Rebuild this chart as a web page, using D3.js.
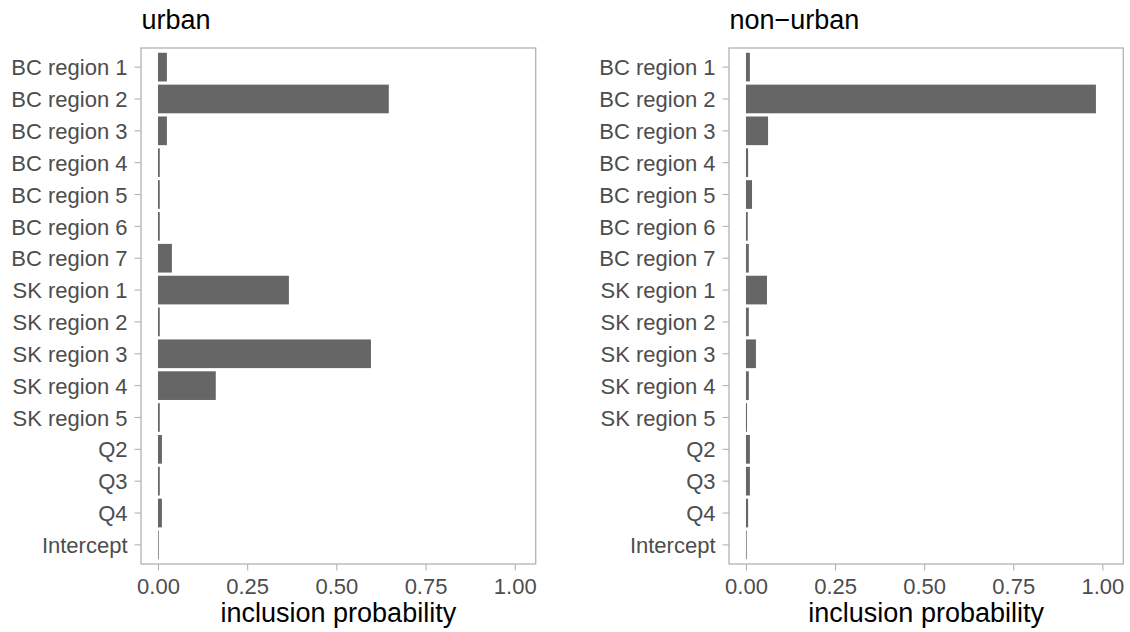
<!DOCTYPE html>
<html>
<head>
<meta charset="utf-8">
<script src="https://cdn.jsdelivr.net/npm/d3@7"></script>
<style>
  body { margin: 0; background: #fff; }
  svg text { font-family: "Liberation Sans", Arial, sans-serif; }
</style>
</head>
<body>
<svg id="chart" width="1130" height="632"></svg>
<script>
// model terms, top to bottom
const terms = [
  'BC region 1', 'BC region 2', 'BC region 3', 'BC region 4', 'BC region 5',
  'BC region 6', 'BC region 7', 'SK region 1', 'SK region 2', 'SK region 3',
  'SK region 4', 'SK region 5', 'Q2', 'Q3', 'Q4', 'Intercept'
];

// inclusion probabilities
const urbanProb = [0.025, 0.647, 0.025, 0.005, 0.005, 0.005, 0.039, 0.367,
  0.005, 0.597, 0.162, 0.005, 0.011, 0.005, 0.011, 0.002];
const nonUrbanProb = [0.011, 0.982, 0.062, 0.006, 0.017, 0.005, 0.008, 0.059,
  0.008, 0.028, 0.008, 0.003, 0.011, 0.011, 0.006, 0.002];

const panelTitles = ['urban', 'non\u2212urban'];
const xTicks = [0, 0.25, 0.5, 0.75, 1];
const xLabel = 'inclusion probability';

const svg = d3.select('#chart');

// panel boxes in pixels
const panelTop = 48, panelBottom = 564;
const panels = [
  {title: panelTitles[0], values: urbanProb, left: 141, right: 535.7},
  {title: panelTitles[1], values: nonUrbanProb, left: 729, right: 1123.3}
];

const axisFont = 22;
const titleFont = 27;

panels.forEach(p => {
  const g = svg.append('g');

  const x = d3.scaleLinear()
    .domain([-0.0476, 1.0588])
    .range([p.left, p.right]);

  const y = d3.scaleBand()
    .domain(terms)
    .range([panelTop, panelBottom])
    .paddingInner(0.1)
    .paddingOuter(0.15);

  const rows = terms.map((t, i) => ({term: t, value: p.values[i]}));

  g.selectAll('rect.bar')
    .data(rows)
    .join('rect')
    .attr('class', 'bar')
    .attr('x', x(0))
    .attr('y', d => y(d.term))
    .attr('width', d => x(d.value) - x(0))
    .attr('height', y.bandwidth())
    .attr('fill', '#666666');

  // panel border
  g.append('rect')
    .attr('x', p.left)
    .attr('y', panelTop)
    .attr('width', p.right - p.left)
    .attr('height', panelBottom - panelTop)
    .attr('fill', 'none')
    .attr('stroke', '#B3B3B3')
    .attr('stroke-width', 1.3);

  const yAxis = g.append('g')
    .attr('transform', `translate(${p.left},0)`)
    .call(d3.axisLeft(y).tickSize(6.5).tickPadding(7));

  const xAxis = g.append('g')
    .attr('transform', `translate(0,${panelBottom})`)
    .call(d3.axisBottom(x).tickValues(xTicks).tickFormat(d3.format('.2f'))
      .tickSize(6.5).tickPadding(8));

  [yAxis, xAxis].forEach(a => {
    a.select('.domain').remove();
    a.selectAll('.tick line').attr('stroke', '#B3B3B3').attr('stroke-width', 1.1);
    a.selectAll('.tick text')
      .attr('fill', '#4D4D4D')
      .style('font-size', axisFont + 'px');
  });
  yAxis.selectAll('.tick text').attr('dy', '0.37em');

  g.append('text')
    .attr('x', p.left + 0.5)
    .attr('y', 28.5)
    .style('font-size', titleFont + 'px')
    .attr('fill', '#000')
    .text(p.title);

  g.append('text')
    .attr('x', (p.left + p.right) / 2)
    .attr('y', 622)
    .attr('text-anchor', 'middle')
    .style('font-size', titleFont + 'px')
    .attr('fill', '#000')
    .text(xLabel);
});
</script>
</body>
</html>
